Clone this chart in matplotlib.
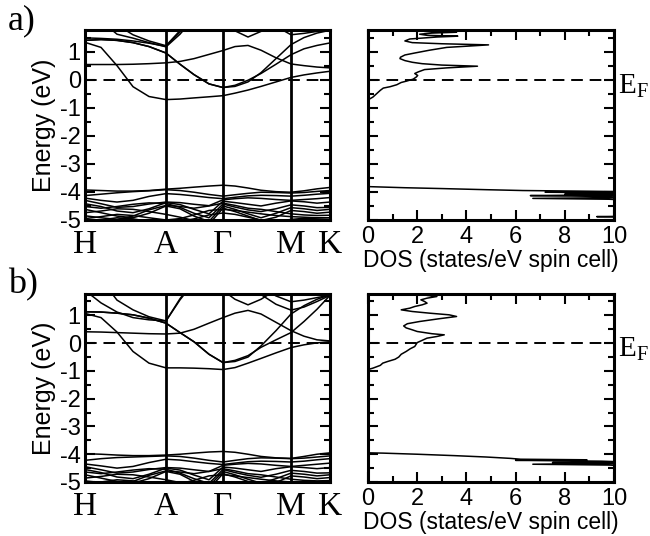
import numpy as np
import matplotlib
matplotlib.use('Agg')
import matplotlib.pyplot as plt
from matplotlib.ticker import MultipleLocator

plt.rcParams['font.family'] = 'Liberation Sans'
plt.rcParams['axes.unicode_minus'] = False
plt.rcParams['mathtext.fontset'] = 'custom'
plt.rcParams['mathtext.rm'] = 'Liberation Serif'

N = np.nan

# k path (distance along H-A-Gamma-M-K)
kpath = [0, 16, 32, 48, 64, 81, 95, 109, 124, 138, 150, 163, 176, 191, 206, 219, 232, 245]
kpts = [0, 81, 138, 206, 245]
klabels = ['H', 'A', 'Γ', 'M', 'K']

# ---- panel a) bands (eV)
ca1 = [1.33, 1.15, 0.50, -0.25, -0.60, -0.71, -0.69, -0.65, -0.61, -0.57, -0.48, -0.37, -0.24, -0.08, 0.08, 0.17, 0.24, 0.30]
ca2 = [0.54, 0.54, 0.54, 0.55, 0.57, 0.60, 0.65, 0.75, 0.90, 1.04, 1.18, 1.22, 1.05, 0.78, 0.56, 0.50, 0.45, 0.42]
ca3a = [1.40, 1.43, 1.40, 1.32, 1.18, 0.95, 0.55, 0.18, -0.15, -0.28, -0.20, -0.02, 0.22, 0.55, 0.89, 1.10, 1.22, 1.31]
ca3b = [1.40, 1.43, 1.40, 1.32, 1.18, 0.95, 0.55, 0.18, -0.15, -0.28, -0.24, -0.08, 0.25, 0.75, 1.25, 1.50, 1.66, 1.76]
ca5 = [1.49, 1.47, 1.44, 1.38, 1.30, 1.19, 1.70, 2.30, N, N, N, N, N, N, N, N, N, N]
ca6 = [N, 2.10, 1.62, 1.48, 1.32, 1.17, 1.62, 2.20, N, N, N, N, N, N, N, N, N, N]
ca7 = [N, N, 1.95, 1.60, 1.38, 1.21, 1.75, 2.30, N, N, N, N, N, N, N, N, N, N]
caV = [N, N, N, N, N, N, N, N, 2.40, 2.10, 1.74, 1.52, 1.72, 2.05, 2.40, N, N, N]
caB = [N, N, N, N, N, N, N, N, N, N, N, N, 2.10, 1.90, 1.60, 1.65, 1.72, 1.76]

va1 = [-3.93, -3.95, -3.97, -3.97, -3.95, -3.90, -3.87, -3.83, -3.79, -3.76, -3.79, -3.86, -3.94, -3.99, -4.01, -3.96, -3.89, -3.84]
va2 = [-4.13, -4.08, -4.03, -3.99, -3.96, -3.92, -3.95, -4.01, -4.09, -4.15, -4.10, -4.05, -4.01, -4.02, -4.04, -4.02, -3.98, -3.95]
va3 = [-4.22, -4.30, -4.36, -4.30, -4.16, -4.06, -4.09, -4.14, -4.20, -4.24, -4.19, -4.14, -4.12, -4.13, -4.15, -4.12, -4.08, -4.05]
va4 = [-4.30, -4.42, -4.55, -4.52, -4.43, -4.36, -4.38, -4.44, -4.49, -4.28, -4.24, -4.21, -4.23, -4.27, -4.30, -4.27, -4.24, -4.20]
va5 = [-4.42, -4.52, -4.68, -4.74, -4.60, -4.38, -4.45, -4.62, -4.78, -4.33, -4.38, -4.44, -4.50, -4.40, -4.32, -4.35, -4.40, -4.36]
va6 = [-4.52, -4.58, -4.52, -4.44, -4.39, -4.41, -4.55, -4.76, -4.92, -4.43, -4.54, -4.64, -4.70, -4.60, -4.46, -4.50, -4.56, -4.55]
va7 = [-4.62, -4.74, -4.86, -4.92, -4.76, -4.50, -4.60, -4.86, -5.05, -4.50, -4.62, -4.78, -4.92, -4.76, -4.56, -4.60, -4.66, -4.62]
va8 = [-4.74, -4.68, -4.60, -4.62, -4.70, -4.80, -4.90, -5.02, -5.15, -4.58, -4.70, -4.86, -5.02, -4.90, -4.66, -4.70, -4.76, -4.72]
va9 = [-4.85, -4.92, -4.98, -4.86, -4.64, -4.48, -4.52, -4.58, -4.50, -4.40, -4.48, -4.58, -4.62, -4.70, -4.78, -4.82, -4.84, -4.83]
va10 = [-4.95, -4.88, -4.80, -4.84, -4.92, -5.00, -4.95, -4.82, -4.66, -4.62, -4.66, -4.72, -4.78, -4.84, -4.88, -4.90, -4.92, -4.92]
va11 = [-5.05, -5.00, -4.92, -4.96, -5.05, -5.10, -5.05, -4.96, -4.82, -4.75, -4.80, -4.90, -5.00, -5.05, -4.98, -4.94, -4.96, -4.98]

# ---- panel b) bands (eV)
cb1 = [1.07, 0.92, 0.40, -0.30, -0.72, -0.89, -0.89, -0.90, -0.92, -0.95, -0.88, -0.72, -0.55, -0.35, -0.16, -0.06, 0.01, 0.05]
cb2 = [0.41, 0.40, 0.38, 0.36, 0.34, 0.33, 0.36, 0.50, 0.72, 0.92, 1.08, 1.18, 1.05, 0.75, 0.45, 0.25, 0.12, 0.08]
cb3a = [1.13, 1.12, 1.08, 1.02, 0.90, 0.72, 0.38, 0.05, -0.40, -0.70, -0.62, -0.45, -0.15, 0.12, 0.38, 0.78, 1.22, 1.72]
cb3b = [1.13, 1.12, 1.08, 1.02, 0.90, 0.72, 0.38, 0.05, -0.40, -0.70, -0.66, -0.50, -0.10, 0.45, 1.05, 1.35, 1.58, 1.74]
cb6 = [1.90, 1.45, 1.12, 0.92, 0.84, 0.80, 1.56, 2.20, N, N, N, N, N, N, N, N, N, N]
cb7 = [N, 2.30, 1.55, 1.20, 0.95, 0.80, 1.60, 2.25, N, N, N, N, N, N, N, N, N, N]
cbV = [N, N, N, N, N, N, N, N, 2.30, 1.90, 1.58, 1.38, 1.58, 1.92, 2.30, N, N, N]
cbB = [N, N, N, N, N, N, N, N, N, N, N, N, 2.00, 1.70, 1.49, 1.55, 1.64, 1.73]
cbC = [N, N, N, N, N, N, N, N, N, N, N, 2.20, 1.75, 1.40, 1.19, 1.30, 1.50, 1.72]

vb1 = [-3.98, -4.00, -4.03, -4.05, -4.05, -4.03, -4.00, -3.96, -3.92, -3.90, -3.93, -4.00, -4.08, -4.13, -4.15, -4.08, -4.00, -3.95]
vb2 = [-4.22, -4.16, -4.12, -4.10, -4.08, -4.06, -4.08, -4.14, -4.22, -4.28, -4.22, -4.16, -4.13, -4.14, -4.16, -4.14, -4.10, -4.06]
vb3 = [-4.35, -4.42, -4.50, -4.44, -4.30, -4.18, -4.21, -4.27, -4.33, -4.37, -4.32, -4.27, -4.25, -4.26, -4.28, -4.25, -4.20, -4.16]
vb4 = [-4.45, -4.56, -4.68, -4.64, -4.55, -4.48, -4.50, -4.56, -4.62, -4.40, -4.36, -4.33, -4.35, -4.40, -4.44, -4.40, -4.36, -4.32]
vb5 = [-4.55, -4.66, -4.82, -4.88, -4.72, -4.50, -4.57, -4.75, -4.92, -4.46, -4.50, -4.56, -4.62, -4.52, -4.45, -4.48, -4.52, -4.48]
vb6 = [-4.64, -4.70, -4.64, -4.57, -4.52, -4.54, -4.68, -4.88, -5.05, -4.55, -4.66, -4.76, -4.83, -4.72, -4.58, -4.62, -4.68, -4.67]
vb7 = [-4.74, -4.86, -4.98, -5.04, -4.88, -4.62, -4.72, -4.98, -5.15, -4.62, -4.74, -4.90, -5.04, -4.88, -4.68, -4.72, -4.78, -4.74]
vb8 = [-4.86, -4.80, -4.72, -4.74, -4.82, -4.92, -5.02, -5.12, -5.25, -4.70, -4.82, -4.98, -5.12, -5.02, -4.78, -4.82, -4.88, -4.84]
vb9 = [-4.96, -5.02, -5.08, -4.98, -4.76, -4.60, -4.64, -4.70, -4.62, -4.52, -4.60, -4.70, -4.74, -4.82, -4.90, -4.94, -4.96, -4.95]
vb10 = [-5.06, -5.00, -4.92, -4.96, -5.04, -5.12, -5.06, -4.94, -4.78, -4.74, -4.78, -4.84, -4.90, -4.96, -5.00, -5.02, -5.04, -5.04]

bands_a = [ca1, ca2, ca3a, ca3b, ca5, ca6, ca7, caV, caB,
           va1, va2, va3, va4, va5, va6, va7, va8, va9, va10, va11]
bands_b = [cb1, cb2, cb3a, cb3b, cb6, cb7, cbV, cbB, cbC,
           vb1, vb2, vb3, vb4, vb5, vb6, vb7, vb8, vb9, vb10]

# ---- DOS (states/eV spin cell) vs energy
dos_a_E = [-5.0, -4.9, -4.88, -4.86, -4.32, -4.29, -4.26, -4.23, -4.2, -4.16, -4.13, -4.1, -4.08, -4.05, -4.03, -4.01,
           -3.99, -3.97, -3.95, -3.92, -3.88, -3.85, -3.81, -0.72, -0.62, -0.5, -0.38, -0.3, -0.25, -0.18, -0.1, -0.05,
           0.02, 0.1, 0.15, 0.22, 0.28, 0.36, 0.42, 0.48, 0.52, 0.57, 0.62, 0.68, 0.75, 0.8, 0.88, 0.95, 1.05, 1.15,
           1.24, 1.28, 1.32, 1.38, 1.45, 1.52, 1.55, 1.58, 1.62, 1.66, 1.69, 1.72, 1.77]
dos_a = [11, 11, 9.3, 11, 11, 10.5, 9.8, 6.7, 10.5, 9.5, 6.6, 10.5, 8.0, 10.5, 9.8, 7.2,
         10.5, 8.5, 6.3, 4.8, 3.0, 1.5, 0.0, 0.0, 0.2, 0.35, 0.5, 0.62, 0.9, 1.17, 1.35, 1.57,
         1.84, 1.97, 2.02, 1.9, 2.05, 2.3, 3.2, 4.45, 3.0, 2.2, 1.8, 1.5, 1.3, 1.32, 1.5, 1.9, 2.5, 3.2,
         4.9, 3.0, 1.8, 1.5, 1.7, 2.8, 3.65, 2.4, 2.1, 2.6, 3.6, 2.3, 2.0]

dos_b_E = [-5.0, -4.45, -4.42, -4.39, -4.36, -4.33, -4.3, -4.28, -4.25, -4.22, -4.2, -4.18, -4.15, -4.1, -4.05, -4.0,
           -3.96, -3.95, -0.95, -0.9, -0.85, -0.8, -0.72, -0.66, -0.58, -0.5, -0.4, -0.3, -0.2, -0.12, -0.05, 0.02,
           0.1, 0.18, 0.24, 0.3, 0.34, 0.38, 0.42, 0.48, 0.55, 0.62, 0.7, 0.78, 0.88, 0.96, 1.02, 1.08,
           1.14, 1.2, 1.26, 1.32, 1.38, 1.44, 1.5, 1.56, 1.62, 1.68, 1.72, 1.77]
dos_b = [11, 11, 10.5, 9.8, 6.7, 10.2, 7.5, 10.5, 9.5, 6.0, 8.9, 6.2, 5.8, 4.8, 3.5, 2.0,
         0.6, 0.0, 0.0, 0.2, 0.35, 0.5, 0.6, 0.8, 1.1, 1.25, 1.35, 1.55, 1.72, 1.9, 1.95, 2.0,
         2.2, 2.4, 2.8, 3.1, 2.6, 2.3, 2.0, 1.8, 1.55, 1.45, 1.6, 2.1, 2.9, 3.6, 3.3, 2.5,
         1.8, 1.35, 1.7, 1.9, 2.2, 2.4, 2.3, 2.15, 2.4, 2.8, 2.4, 2.3]

ylo, yhi = -5, 1.77

fig = plt.figure(figsize=(6.5, 5.36), dpi=100)


def style(ax):
    for s in ax.spines.values():
        s.set_linewidth(2.2)
    ax.set_ylim(ylo, yhi)
    ax.yaxis.set_major_locator(MultipleLocator(1))
    ax.yaxis.set_minor_locator(MultipleLocator(0.5))
    ax.tick_params(axis='y', which='both', direction='in', left=True, right=True, width=1.5)
    ax.tick_params(axis='y', which='major', length=7)
    ax.tick_params(axis='y', which='minor', length=4.5)
    ax.axhline(0, color='k', lw=1.4, dashes=(6, 3.5))


def band_panel(rect, bands):
    ax = fig.add_axes(rect)
    for b in bands:
        ax.plot(kpath, b, color='k', lw=1.1)
    for k in kpts[1:-1]:
        ax.axvline(k, color='k', lw=2)
    ax.set_xlim(kpts[0], kpts[-1])
    style(ax)
    ax.set_yticks(range(-5, 2))
    ax.set_yticklabels([str(v) for v in range(-5, 2)], fontsize=17)
    ax.tick_params(axis='y', which='major', pad=3)
    ax.set_xticks(kpts)
    ax.set_xticklabels(klabels, fontfamily='Liberation Serif', fontsize=24)
    ax.tick_params(axis='x', length=0, pad=7)
    ax.set_ylabel('Energy (eV)', fontsize=18, labelpad=3)
    return ax


def dos_panel(rect, E, D, yef):
    ax = fig.add_axes(rect)
    ax.plot(D, E, color='k', lw=1.1)
    ax.set_xlim(0, 10)
    style(ax)
    ax.tick_params(axis='y', labelleft=False)
    ax.xaxis.set_major_locator(MultipleLocator(2))
    ax.xaxis.set_minor_locator(MultipleLocator(1))
    ax.tick_params(axis='x', which='both', direction='in', top=True, bottom=True, width=1.5, labelsize=17, pad=4)
    ax.tick_params(axis='x', which='major', length=7)
    ax.tick_params(axis='x', which='minor', length=4.5)
    ax.set_xlabel('DOS (states/eV spin cell)', fontsize=16.5, labelpad=1)
    fig.text(618 / 650, yef, r'$\mathrm{E_F}$', fontsize=21, ha='left', va='center')
    return ax


band_panel([85 / 650, 316 / 536, 245 / 650, 190 / 536], bands_a)
dos_panel([368 / 650, 316 / 536, 246 / 650, 190 / 536], dos_a_E, dos_a, (536 - 86) / 536)
band_panel([85 / 650, 54 / 536, 245 / 650, 188 / 536], bands_b)
dos_panel([368 / 650, 54 / 536, 246 / 650, 188 / 536], dos_b_E, dos_b, (536 - 349) / 536)

fig.text(8 / 650, 1 - 4 / 536, 'a)', fontfamily='Liberation Serif', fontsize=26, va='top')
fig.text(8 / 650, 1 - 268 / 536, 'b)', fontfamily='Liberation Serif', fontsize=26, va='top')

fig.savefig('out.png', dpi=100)
